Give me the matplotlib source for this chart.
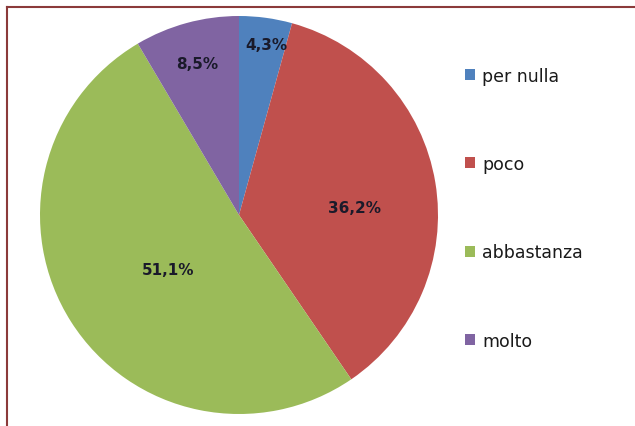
import matplotlib
matplotlib.use("Agg")
import matplotlib.pyplot as plt
from matplotlib.lines import Line2D
import numpy as np

categories = ["per nulla", "poco", "abbastanza", "molto"]
values = [4.3, 36.2, 51.1, 8.5]
value_labels = ["4,3%", "36,2%", "51,1%", "8,5%"]
colors = ["#4F81BD", "#C0504D", "#9BBB59", "#8064A2"]

W, H = 635, 427
fig = plt.figure(figsize=(W / 100, H / 100), dpi=100)
fig.patch.set_facecolor("white")

# pie axes: centre (239, 216) px from top-left, radius 199 px
cx, cy, r = 239, 216, 199
ax = fig.add_axes([(cx - r) / W, (H - cy - r) / H, 2 * r / W, 2 * r / H])
wedges, _ = ax.pie(values, colors=colors, startangle=90, counterclock=False,
                   radius=1.0, wedgeprops=dict(linewidth=0))
ax.set_xlim(-1, 1)
ax.set_ylim(-1, 1)
ax.set_aspect("equal")
ax.axis("off")

# value labels: per-slice distance from the centre and angular nudge
label_dist = [0.87, 0.58, 0.45, 0.79]
label_nudge = [-1.5, -5.5, 5.0, 0.0]
for w, txt, d, nd in zip(wedges, value_labels, label_dist, label_nudge):
    ang = np.deg2rad((w.theta1 + w.theta2) / 2 + nd)
    ax.text(d * np.cos(ang), d * np.sin(ang), txt, ha="center", va="center",
            fontsize=11, fontweight="bold", color="#1a1a2a")

leg = fig.legend(wedges, categories, loc="upper left",
                 bbox_to_anchor=(449 / W, 1 - 52 / H), frameon=False,
                 fontsize=12.5, handlelength=0.6, handleheight=0.6,
                 handletextpad=0.4, labelspacing=4.05)
for t in leg.get_texts():
    t.set_color("#1a1a1a")

# frame lines along the top and left edges
fig.add_artist(Line2D([7 / W, 1], [1 - 8 / H, 1 - 8 / H], color="#8B3A3A",
                      linewidth=1.5, transform=fig.transFigure))
fig.add_artist(Line2D([7 / W, 7 / W], [0, 1 - 8 / H], color="#8B3A3A",
                      linewidth=1.5, transform=fig.transFigure))

fig.savefig("out.png", dpi=100, facecolor="white")
